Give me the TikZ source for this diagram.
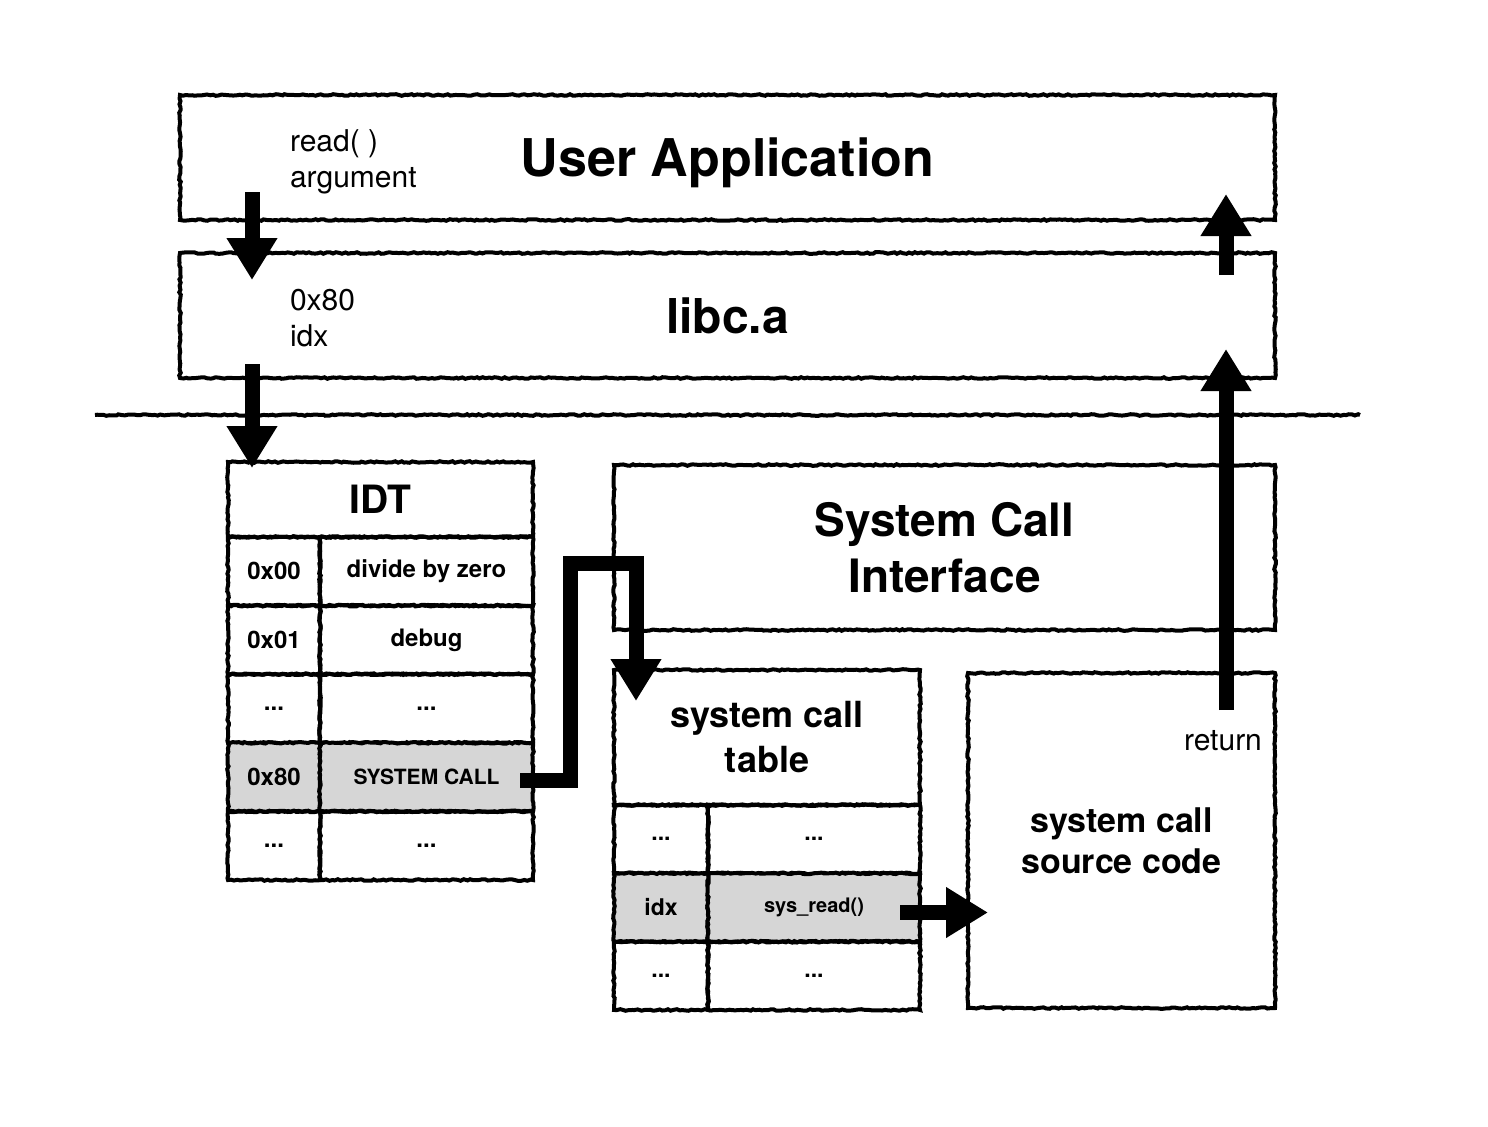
\documentclass[tikz,border=0pt]{standalone}
\usepackage{fontspec}
\setmainfont{TeX Gyre Heros}
\usetikzlibrary{arrows.meta,decorations.pathmorphing}

\begin{document}
\begin{tikzpicture}[x=0.5pt,y=-0.5pt,
  rough/.style={draw, line width=2pt, decorate,
    decoration={random steps,segment length=1.5pt,amplitude=0.4pt}},
  box/.style={rough, inner sep=0pt, align=center},
  idtcell/.style={box, minimum height=34.3pt, font=\bfseries\fontsize{12}{14}\selectfont},
  sctcell/.style={box, minimum height=34.15pt, font=\bfseries\fontsize{11.5}{14}\selectfont},
  hit/.style={fill=black!16},
  fat/.style={line width=7.5pt, line join=miter, -{Triangle[width=24pt,length=21pt]}},
  note/.style={anchor=west, align=left, font=\fontsize{15}{18}\selectfont}]
\useasboundingbox (0,0) rectangle (1488,1126);

% user space
\node[box, minimum width=547.5pt, minimum height=62.5pt, text depth=0pt,
  font=\bfseries\fontsize{26}{30}\selectfont] (app) at (727.5,157.5) {User Application};
\node[note] (arg) at (283,162) {read( )\\argument};
\node[box, minimum width=547.5pt, minimum height=62.5pt,
  font=\bfseries\fontsize{24}{28}\selectfont] (libc) at (727.5,315.5) {libc.a};
\node[note] (num) at (283,318) {0x80\\idx};

% user / kernel border
\draw[rough] (95,415) -- (1360,415);

% IDT
\node[box, minimum width=152.5pt, minimum height=37.5pt,
  font=\bfseries\fontsize{19.5}{22}\selectfont] (idt) at (380.5,499.5) {IDT};
\node[idtcell, minimum width=46pt] (k00) at (274,571.3) {0x00};
\node[idtcell, minimum width=106.5pt] (v00) at (426.5,571.3) {divide by zero};
\node[idtcell, minimum width=46pt] (k01) at (274,639.9) {0x01};
\node[idtcell, minimum width=106.5pt] (v01) at (426.5,639.9) {debug};
\node[idtcell, minimum width=46pt] (kdots) at (274,708.5) {...};
\node[idtcell, minimum width=106.5pt] (vdots) at (426.5,708.5) {...};
\node[idtcell, hit, minimum width=46pt] (k80) at (274,777.1) {0x80};
\node[idtcell, hit, minimum width=106.5pt, font=\bfseries\fontsize{10.5}{12}\selectfont] (v80) at (426.5,777.1) {SYSTEM CALL};
\node[idtcell, minimum width=46pt] (kend) at (274,845.7) {...};
\node[idtcell, minimum width=106.5pt] (vend) at (426.5,845.7) {...};

% kernel side
\node[box, minimum width=330.5pt, minimum height=82.5pt,
  font=\bfseries\fontsize{23}{28}\selectfont] (sci) at (944.5,547.5) {System Call\\Interface};
\node[box, minimum width=153pt, minimum height=67.5pt,
  font=\bfseries\fontsize{18}{22.5}\selectfont] (sct) at (767,737.5) {system call\\table};
\node[sctcell, minimum width=47pt] (s1k) at (661,839.2) {...};
\node[sctcell, minimum width=106pt] (s1v) at (814,839.2) {...};
\node[sctcell, hit, minimum width=47pt] (sik) at (661,907.5) {idx};
\node[sctcell, hit, minimum width=106pt, font=\bfseries\fontsize{10}{12}\selectfont] (siv) at (814,907.5) {sys\_read()};
\node[sctcell, minimum width=47pt] (s3k) at (661,975.8) {...};
\node[sctcell, minimum width=106pt] (s3v) at (814,975.8) {...};
\node[box, minimum width=153.5pt, minimum height=167.5pt,
  font=\bfseries\fontsize{17}{20.5}\selectfont] (src) at (1121.5,840.5) {system call\\source code};
\node[note, anchor=center] (ret) at (1223,741) {return};

% flow
\draw[fat] ([xshift=37pt,yshift=15pt]app.south west) -- ([xshift=37pt,yshift=-14.5pt]libc.north west);
\draw[fat] ([xshift=37pt,yshift=8pt]libc.south west) -- ([xshift=13pt,yshift=-4pt]idt.north west);
\draw[fat] ([xshift=-7.5pt,yshift=-1.5pt]v80.east) -| (570,563) -| ([xshift=12pt,yshift=-16.5pt]sct.north west);
\coordinate (srcin) at (siv.east -| src.west);
\draw[fat] ([xshift=-11pt,yshift=-2.5pt]siv.east) -- ([xshift=11pt,yshift=-2.5pt]srcin);
\draw[fat] ([xshift=-25.5pt,yshift=-19.5pt]src.north east) -- ([xshift=-25.5pt,yshift=15.5pt]libc.south east);
\draw[fat] ([xshift=-25.5pt,yshift=-12pt]libc.north east) -- ([xshift=-25.5pt,yshift=14pt]app.south east);
\end{tikzpicture}
\end{document}
